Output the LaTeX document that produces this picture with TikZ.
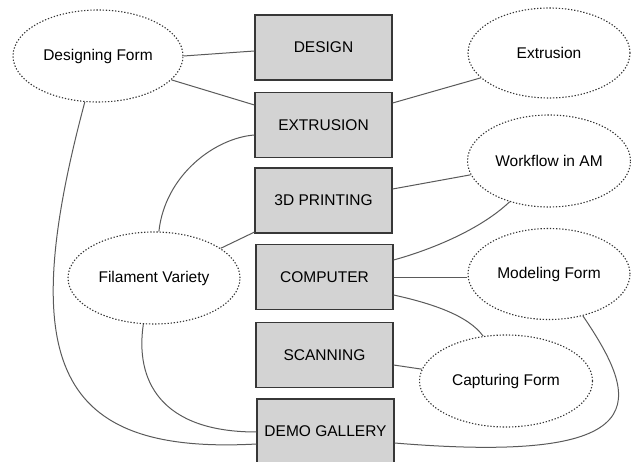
\documentclass[tikz,border=0pt]{standalone}
\usepackage{fontspec}
\setmainfont{Liberation Sans}
\usetikzlibrary{shapes.geometric}
\definecolor{boxfill}{RGB}{211,211,211}
\definecolor{boxline}{RGB}{55,55,55}
\definecolor{linkcol}{RGB}{90,90,90}
\begin{document}
\begin{tikzpicture}[x=1pt,y=-1pt,
  font=\fontsize{15.5}{18}\selectfont,
  topic/.style={draw=boxline,line width=1.2pt,fill=boxfill,rectangle,
    minimum width=137pt,minimum height=65pt,inner sep=0pt},
  theme/.style={draw=black!80,line width=1.1pt,ellipse,inner sep=0pt,
    dash pattern=on 1.3pt off 1.8pt},
  link/.style={draw=linkcol,line width=1pt}]
\useasboundingbox (0,0) rectangle (631,462);

% central column of topics
\node[topic] (design)   at (323.5,47.5)  {DESIGN};
\node[topic] (extr)     at (323.5,125)   {EXTRUSION};
\node[topic] (printing) at (323.5,200.5) {3D PRINTING};
\node[topic] (computer) at (324.5,277)   {COMPUTER};
\node[topic] (scan)     at (324.5,355)   {SCANNING};
\node[topic] (gallery)  at (325.5,431.5) {DEMO GALLERY};

% surrounding themes
\node[theme,minimum width=170pt,minimum height=92pt] (dform) at (98,56)   {Designing Form};
\node[theme,minimum width=162pt,minimum height=90pt] (extrE) at (549,53)  {Extrusion};
\node[theme,minimum width=163pt,minimum height=92pt] (work)  at (549,161) {Workflow in AM};
\node[theme,minimum width=162pt,minimum height=91pt] (model) at (549,274) {Modeling Form};
\node[theme,minimum width=172pt,minimum height=92pt] (fil)   at (154,278) {Filament Variety};
\node[theme,minimum width=173pt,minimum height=92pt] (capt)  at (506,381) {Capturing Form};

% connectors
\draw[link] (dform.east) -- ([yshift=-3.5pt]design.west);
\draw[link] (dform.-18) -- ([yshift=20pt]extr.west);
\draw[link] (dform.-106) .. controls (15,363) and (56,455) .. ([yshift=-12.5pt]gallery.west);
\draw[link] (extrE.-160) -- ([yshift=22pt]extr.east);
\draw[link] ([yshift=-10pt]extr.west) .. controls (215,138) and (165,175) .. (fil.84);
\draw[link] ([yshift=1.5pt]printing.south west) -- (fil.24);
\draw[link] ([yshift=11.5pt]printing.east) -- (work.190);
\draw[link] ([yshift=17pt]computer.east) .. controls (430,250) and (480,230) .. (work.-134);
\draw[link] (computer.east) -- (computer.east -| model.west);
\draw[link] ([yshift=-18pt]computer.east) .. controls (430,303) and (468,315) .. (capt.117);
\draw[link] ([yshift=-10pt]scan.east) -- (capt.172);
\draw[link] (fil.-103) .. controls (135,380) and (160,432) .. ([yshift=-0.5pt]gallery.west);
\draw[link] (model.-51) .. controls (640,400) and (660,465) .. ([yshift=-11.5pt]gallery.east);
\end{tikzpicture}
\end{document}
